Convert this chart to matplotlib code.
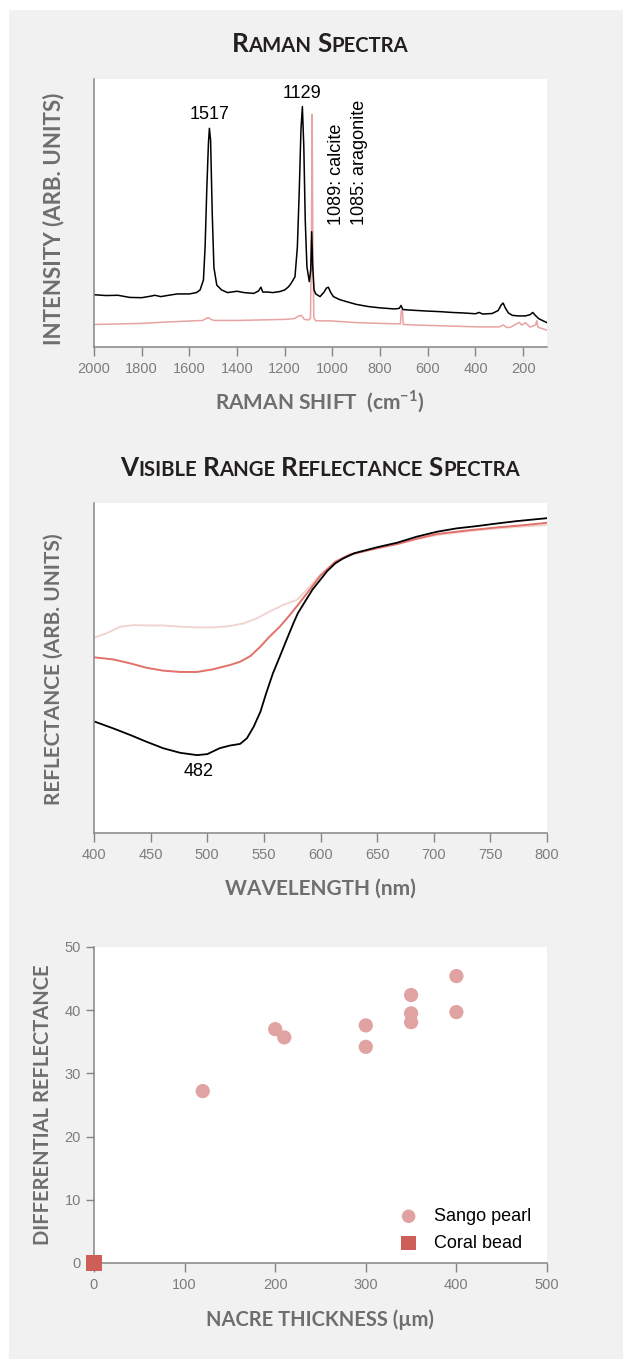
import matplotlib
matplotlib.use('Agg')
import matplotlib.pyplot as plt
from matplotlib.patches import Rectangle
from matplotlib.transforms import IdentityTransform

# ---- Raman spectra (arb. intensity) ----
raman_shift_black = [2000, 1950, 1900, 1850, 1800, 1760, 1745, 1720, 1680, 1650, 1600, 1570, 1555,
                     1541, 1534, 1527, 1520, 1516, 1511, 1504, 1497, 1485, 1465, 1440, 1400, 1370,
                     1330, 1310, 1300, 1292, 1270, 1250, 1220, 1200, 1185, 1175, 1157, 1147, 1139,
                     1132, 1126, 1120, 1114, 1107, 1097, 1091, 1087, 1083, 1077, 1070, 1052, 1035,
                     1025, 1017, 1008, 996, 970, 940, 900, 850, 800, 740, 720, 712, 705, 680, 640,
                     600, 550, 500, 450, 400, 385, 370, 330, 305, 292, 284, 275, 262, 245, 220, 190,
                     170, 160, 150, 135, 115, 100]
raman_black = [19.5, 19.2, 19.3, 18.5, 18.4, 19.0, 19.3, 18.8, 19.4, 19.8, 19.8, 20.3, 21.3,
               25.0, 37.4, 58.6, 76.1, 81.6, 77.2, 49.6, 29.6, 23.1, 21.3, 20.3, 20.8, 20.3,
               20.0, 20.9, 22.3, 20.5, 20.5, 20.3, 20.7, 21.3, 22.4, 23.5, 26.2, 37.4, 58.6,
               81.0, 89.7, 74.7, 47.4, 30.0, 24.4, 28.7, 43.0, 30.6, 21.3, 19.8, 18.8, 20.5,
               22.0, 22.3, 20.5, 18.8, 17.7, 16.9, 15.9, 15.1, 14.6, 14.2, 14.4, 15.5, 14.0, 13.8, 13.6,
               13.4, 13.2, 12.9, 12.7, 12.4, 12.9, 12.3, 12.5, 13.6, 15.7, 16.4, 14.6, 12.7, 11.8, 11.6, 11.6,
               12.1, 12.9, 11.9, 10.6, 9.7, 9.1]

raman_shift_pink = [2000, 1900, 1800, 1700, 1600, 1545, 1530, 1520, 1510, 1495, 1400, 1300, 1200,
                    1160, 1140, 1130, 1118, 1100, 1092, 1088, 1085, 1082, 1078, 1070, 1000, 900,
                    800, 715, 711, 706, 703, 650, 500, 390, 300, 284, 268, 255, 216, 206, 190, 171,
                    148, 143, 138, 115, 100]
raman_pink = [8.4, 8.6, 8.8, 9.3, 9.7, 9.9, 10.6, 11.0, 10.3, 9.9, 9.9, 10.1, 10.3,
              10.6, 11.6, 11.8, 10.3, 10.1, 10.8, 39.9, 86.8, 39.9, 10.8, 9.8, 9.7, 9.1,
              8.8, 8.6, 13.6, 13.4, 8.4, 8.2, 7.8, 7.5, 7.5, 8.2, 7.3, 7.3, 9.2, 8.2, 9.1, 7.4,
              8.2, 9.8, 7.4, 6.7, 6.3]

raman_ticks = [2000, 1800, 1600, 1400, 1200, 1000, 800, 600, 400, 200]

# ---- visible reflectance spectra ----
wl_black = [401, 417, 432, 446, 461, 476, 491, 500, 511, 520, 529, 535, 541, 547, 552, 558,
            564, 570, 576, 580, 587, 593, 600, 606, 613, 620, 630, 650, 668, 685, 703, 720,
            738, 756, 773, 800]
refl_black = [33.7, 31.7, 29.7, 27.7, 25.7, 24.3, 23.6, 23.9, 25.7, 26.5, 27.0, 28.7, 32.2,
              36.8, 42.3, 48.4, 53.4, 58.5, 63.5, 66.6, 70.5, 73.8, 76.8, 79.4, 81.7, 83.2,
              84.8, 86.6, 88.0, 89.8, 91.3, 92.3, 93.0, 93.8, 94.5, 95.4]

wl_red = [401, 417, 432, 446, 461, 476, 491, 505, 520, 529, 538, 547, 555, 564, 573, 580,
          590, 600, 613, 626, 650, 668, 685, 703, 730, 756, 780, 800]
refl_red = [53.2, 52.6, 51.4, 50.1, 49.2, 48.8, 48.8, 49.6, 50.9, 51.9, 53.6, 56.5, 59.5, 62.5,
            66.1, 69.1, 73.5, 78.0, 82.2, 84.4, 86.3, 87.6, 89.2, 90.6, 91.7, 92.6, 93.3, 94.0]

wl_light = [401, 411, 423, 435, 446, 461, 476, 491, 505, 520, 532, 544, 555, 567, 579, 590,
            600, 613, 626, 650, 668, 685, 703, 730, 756, 780, 800]
refl_light = [59.3, 60.5, 62.5, 63.0, 62.9, 62.9, 62.5, 62.3, 62.3, 62.7, 63.5, 65.1, 67.1, 69.1,
              70.6, 74.5, 78.3, 82.0, 84.2, 86.3, 87.5, 89.0, 90.3, 91.4, 92.3, 92.9, 93.3]

wl_ticks = [400, 450, 500, 550, 600, 650, 700, 750, 800]

# ---- differential reflectance vs nacre thickness ----
sango_thickness = [120, 200, 210, 300, 300, 350, 350, 350, 400, 400]
sango_diff = [27.2, 37.0, 35.7, 37.6, 34.2, 42.4, 39.5, 38.1, 45.4, 39.7]
bead_thickness = [0]
bead_diff = [0]

W, H = 623, 1359
BG = '#f1f1f1'
GREY = '#6e6e6e'
TICK = '#7d7d7d'
SPINE = '#858585'

fig = plt.figure(figsize=(W / 100, H / 100), dpi=100)
fig.patch.set_facecolor('white')
fig.patches.append(Rectangle((9 / W, 0), 1 - 9 / W, 1 - 10 / H, transform=fig.transFigure,
                             facecolor=BG, edgecolor='none', zorder=-10))


def axes_px(left, top, right, bottom):
    return fig.add_axes([left / W, 1 - bottom / H, (right - left) / W, (bottom - top) / H])


def fx(x):
    return x / W


def fy(y):
    return 1 - y / H


def style_axes(ax, yticks=False):
    for s in ['top', 'right']:
        ax.spines[s].set_visible(False)
    for s in ['left', 'bottom']:
        ax.spines[s].set_color(SPINE)
        ax.spines[s].set_linewidth(1.1)
    ax.set_facecolor('white')
    ax.tick_params(axis='x', direction='out', length=6.5, width=1, color=SPINE, pad=4.5,
                   labelsize=10.5, labelcolor=TICK)
    if yticks:
        ax.tick_params(axis='y', direction='out', length=6, width=1, color=SPINE, pad=3.5,
                       labelsize=10.5, labelcolor=TICK)
    else:
        ax.set_yticks([])
    for lab in ax.get_xticklabels() + ax.get_yticklabels():
        lab.set_family('Liberation Sans')


def axis_label(x, y, text, rotation=0, size=15):
    fig.text(fx(x), fy(y), text, ha='center', va='center', rotation=rotation,
             fontsize=size, fontweight='bold', family=['Lato', 'DejaVu Sans'], color=GREY)


def small_caps(text, xc, y_base, big=18.7, small=14.6):
    r = fig.canvas.get_renderer()
    gap = small * 0.28 * fig.dpi / 72
    placed = []
    x = 0
    for i, word in enumerate(text.split()):
        if i:
            x += gap
        for piece, size in [(word[0], big), (word[1:].upper(), small)]:
            if not piece:
                continue
            t = fig.text(0, 0, piece, fontsize=size, fontweight='bold', family='Lato',
                         color='#231f20', transform=IdentityTransform(), va='baseline')
            placed.append((t, x))
            x += t.get_window_extent(r).width
    start = xc - x / 2
    for t, off in placed:
        t.set_position((start + off, H - y_base))


# Raman
ax1 = axes_px(94, 79, 547, 347)
ax1.plot(raman_shift_pink, raman_pink, color='#e8a3a3', lw=1.1)
ax1.plot(raman_shift_black, raman_black, color='black', lw=1.1)
ax1.set_xlim(2000, 100)
ax1.set_ylim(0, 100)
ax1.set_xticks(raman_ticks)
style_axes(ax1)
ann = dict(fontsize=13, family='Liberation Sans', color='black')
ax1.text(1517, 83.5, '1517', ha='center', va='bottom', **ann)
ax1.text(1127, 91.5, '1129', ha='center', va='bottom', **ann)
ax1.text(981, 45.5, '1089: calcite', rotation=90, ha='center', va='bottom', **ann)
ax1.text(886, 45.5, '1085: aragonite', rotation=90, ha='center', va='bottom', **ann)
small_caps('Raman Spectra', 320, 52)
axis_label(320, 402, r'RAMAN SHIFT  (cm$^{\mathregular{-1}}$)')
axis_label(54, 219, 'INTENSITY (ARB. UNITS)', rotation=90, size=16)

# Visible range reflectance
ax2 = axes_px(94, 503, 547, 833)
ax2.plot(wl_light, refl_light, color='#f2d4d1', lw=1.4)
ax2.plot(wl_red, refl_red, color='#e2716a', lw=1.4)
ax2.plot(wl_black, refl_black, color='black', lw=1.3)
ax2.set_xlim(400, 800)
ax2.set_ylim(0, 100)
ax2.set_xticks(wl_ticks)
style_axes(ax2)
ax2.text(492, 18.6, '482', ha='center', va='center', **ann)
small_caps('Visible Range Reflectance Spectra', 320, 476)
axis_label(320, 889, 'WAVELENGTH (nm)')
axis_label(54, 669, 'REFLECTANCE (ARB. UNITS)', rotation=90)

# Differential reflectance
ax3 = axes_px(94, 947, 547, 1263)
ax3.scatter(sango_thickness, sango_diff, s=105, color='#e0a3a1', edgecolors='none',
            label='Sango pearl', zorder=3)
ax3.scatter(bead_thickness, bead_diff, s=120, marker='s', color='#cd5f58', edgecolors='none',
            label='Coral bead', zorder=4, clip_on=False)
ax3.set_xlim(0, 500)
ax3.set_ylim(0, 50)
ax3.set_xticks([0, 100, 200, 300, 400, 500])
ax3.set_yticks([0, 10, 20, 30, 40, 50])
style_axes(ax3, yticks=True)
ax3.legend(loc='lower right', bbox_to_anchor=(0.965, 0.035), frameon=False,
           prop={'family': 'Liberation Sans', 'size': 13}, handletextpad=0.4,
           labelspacing=0.55, borderaxespad=0, borderpad=0, markerscale=0.95)
axis_label(320, 1320, 'NACRE THICKNESS (µm)', size=14.5)
axis_label(43, 1105, 'DIFFERENTIAL REFLECTANCE', rotation=90, size=14.5)

fig.savefig('out.png', dpi=100, facecolor=fig.get_facecolor())
